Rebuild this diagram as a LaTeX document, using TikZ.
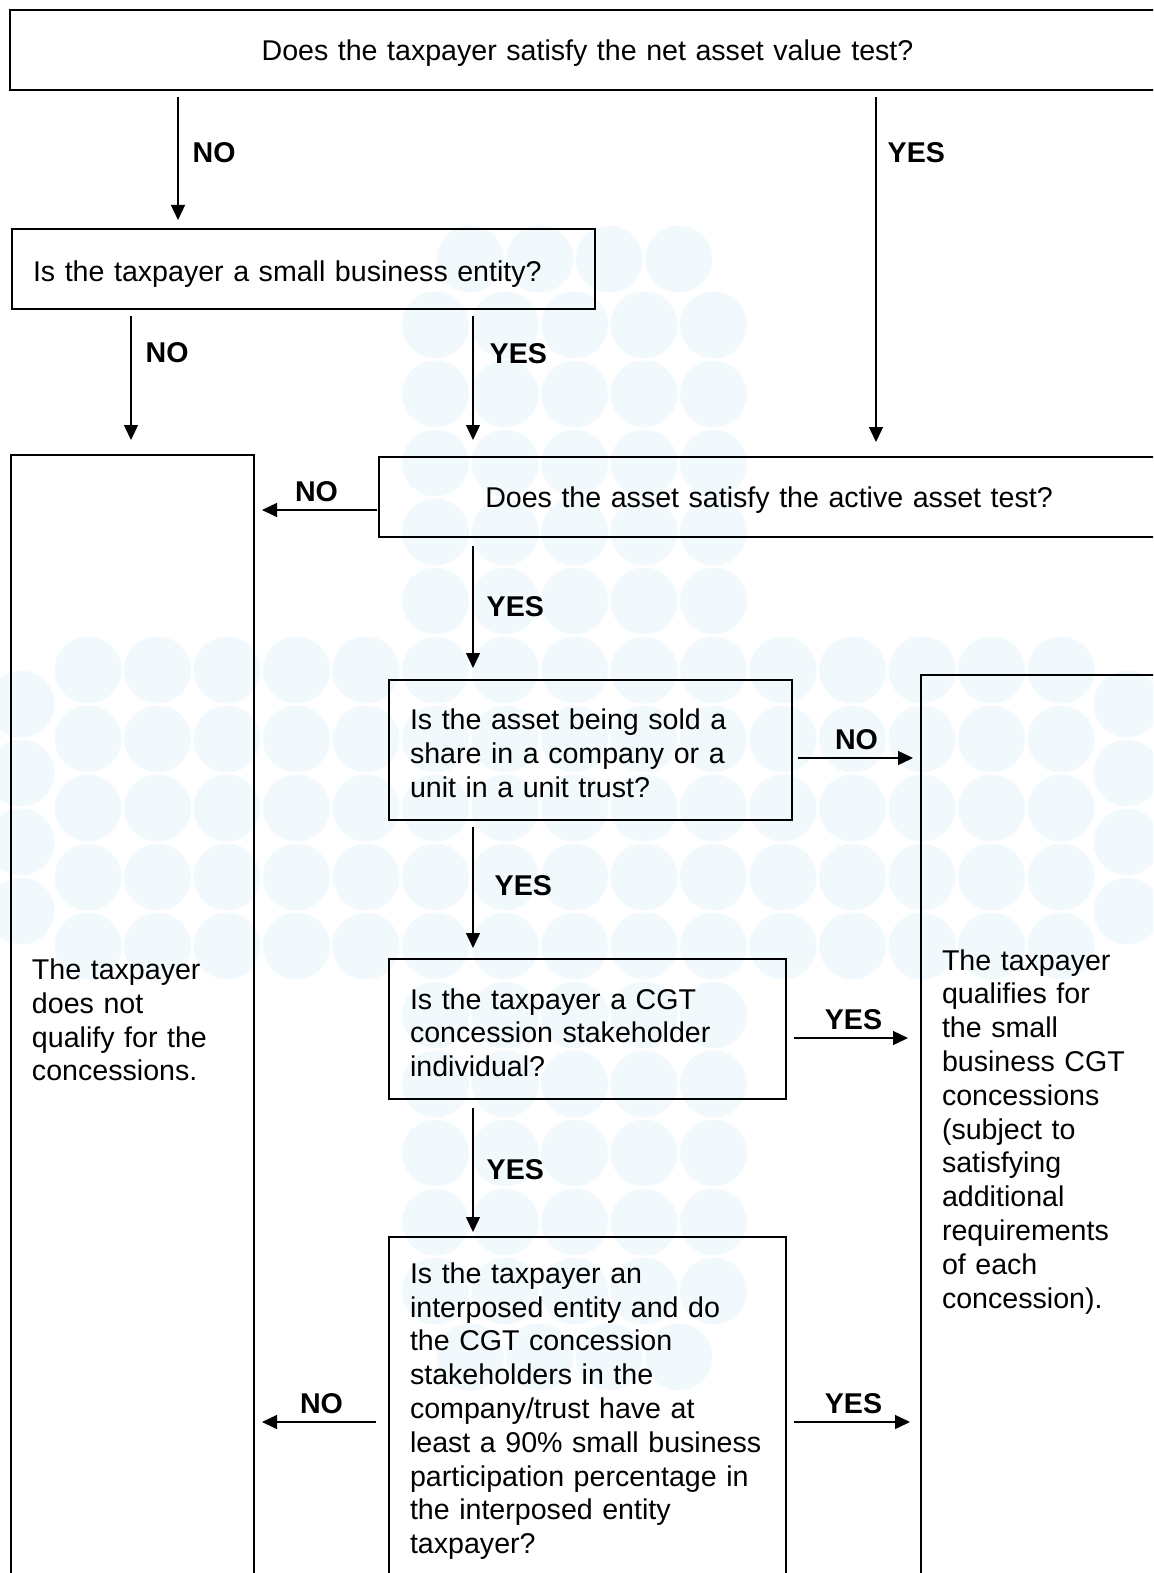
\documentclass[tikz,border=0pt]{standalone}
\usepackage{fontspec}
\setmainfont{Liberation Sans}
\usetikzlibrary{arrows.meta}
\definecolor{dotblue}{RGB}{241,249,253}
\tikzset{
	box/.style={draw, line width=1.1pt, anchor=north west, outer sep=0pt, align=left, inner xsep=10.5pt, font=\fontsize{14.3pt}{16.9pt}\selectfont},
	oneline/.style={text depth=0pt},
	topstrut/.style={execute at begin node={\rule{0pt}{#1}}},
	arr/.style={-{Triangle[length=7.5pt,width=7pt]}, line width=0.7pt, shorten <=3.5pt},
	lab/.style={font=\fontsize{14.3pt}{17pt}\selectfont\bfseries, inner sep=2pt},
	bgdot/.style={fill=dotblue},
}
\begin{document}
\begin{tikzpicture}[x=0.5pt,y=-0.5pt]
	\clip (0,0) rectangle (1153,1573);

	% watermark of dots
	\foreach \i in {0,...,14}
		\foreach \j in {0,...,4}
			\fill[bgdot] (88+69.5*\i,670+69*\j) circle [radius=16.75pt];
	\foreach \y in {704,773,842,911}
	{
		\fill[bgdot] (21,\y) circle [radius=16.75pt];
		\fill[bgdot] (1127,\y) circle [radius=16.75pt];
	};
	\foreach \i in {5,...,9}
		\foreach \j in {1,...,5}
		{
			\fill[bgdot] (88+69.5*\i,670-69*\j) circle [radius=16.75pt];
			\fill[bgdot] (88+69.5*\i,946+69*\j) circle [radius=16.75pt];
		};
	\foreach \i in {5,...,8}
	{
		\fill[bgdot] (122.75+69.5*\i,259) circle [radius=16.75pt];
		\fill[bgdot] (122.75+69.5*\i,1357) circle [radius=16.75pt];
	};

	\node[box, oneline, align=center, text width=556.5pt, minimum height=40pt] (n1) at (10,10) {Does the taxpayer satisfy the net asset value test?};
	\node[box, oneline, text width=270.5pt, minimum height=40pt, text height=12pt] (n2) at (12,229) {Is the taxpayer a small business entity?};
	\node[box, oneline, align=center, text width=369pt, minimum height=40pt] (n4) at (379,457) {Does the asset satisfy the active asset test?};
	\node[box, topstrut=13.4pt, text width=100.5pt, minimum height=562pt] (n3) at (11,455) {The taxpayer\\does not\\qualify for the\\concessions.};
	\node[box, topstrut=13.4pt, text width=180.5pt, minimum height=70pt] (n5) at (389,680) {Is the asset being sold a\\share in a company or a\\unit in a unit trust?};
	\node[box, topstrut=17pt, text width=103.5pt, minimum height=450pt] (n6) at (921,675) {The taxpayer\\qualifies for\\the small\\business CGT\\concessions\\(subject to\\satisfying\\additional\\requirements\\of each\\concession).};
	\node[box, topstrut=14pt, text width=177.5pt, minimum height=70pt] (n7) at (389,959) {Is the taxpayer a CGT\\concession stakeholder\\individual?};
	\node[box, topstrut=13.4pt, text width=177.5pt, minimum height=171pt] (n8) at (389,1237) {Is the taxpayer an\\interposed entity and do\\the CGT concession\\stakeholders in the\\company/trust have at\\\mbox{least a 90\% small business}\\\mbox{participation percentage in}\\the interposed entity\\taxpayer?};

	\coordinate (cA) at (178,0);
	\coordinate (cB) at (876,0);
	\coordinate (cC) at (131,0);
	\coordinate (cD) at (473,0);
	\coordinate (rA) at (0,510);
	\coordinate (rB) at (0,758);
	\coordinate (rC) at (0,1038);
	\coordinate (rD) at (0,1422);

	\draw[arr, shorten >=4.5pt] (n1.south -| cA) -- node[lab, pos=0.45, right=5pt] (l1) {NO} (n2.north -| cA);
	\draw[arr, shorten >=7.5pt] (n1.south -| cB) -- node[lab, pos=0.17, right=3.5pt] (l2) {YES} (n4.north -| cB);
	\draw[arr, shorten >=7.5pt] (n2.south -| cC) -- node[lab, pos=0.30, right=5pt] (l3) {NO} (n3.north -| cC);
	\draw[arr, shorten >=8.5pt] (n2.south -| cD) -- node[lab, pos=0.30, right=6pt] (l4) {YES} (n4.north -| cD);
	\draw[arr, shorten <=1pt, shorten >=4pt] (n4.west |- rA) -- node[lab, midway, above=2pt] (l5) {NO} (n3.east |- rA);
	\draw[arr, shorten <=4.5pt, shorten >=6pt] (n4.south -| cD) -- node[lab, pos=0.49, right=4.5pt] (l6) {YES} (n5.north -| cD);
	\draw[arr, shorten <=3pt, shorten >=4pt] (n5.east |- rB) -- node[lab, midway, above=2pt] (l7) {NO} (n6.west |- rB);
	\draw[arr, shorten >=5.5pt] (n5.south -| cD) -- node[lab, pos=0.47, right=8.5pt] (l8) {YES} (n7.north -| cD);
	\draw[arr, shorten <=4pt, shorten >=6.5pt] (n7.east |- rC) -- node[lab, midway, above=2pt] (l9) {YES} (n6.west |- rC);
	\draw[arr, shorten <=4.5pt, shorten >=2.5pt] (n7.south -| cD) -- node[lab, pos=0.51, right=4.5pt] (l10) {YES} (n8.north -| cD);
	\draw[arr, shorten <=6.5pt, shorten >=4pt] (n8.west |- rD) -- node[lab, midway, above=2pt] (l11) {NO} (n3.east |- rD);
	\draw[arr, shorten <=4pt, shorten >=5.5pt] (n8.east |- rD) -- node[lab, midway, above=2pt] (l12) {YES} (n6.west |- rD);
\end{tikzpicture}
\end{document}
